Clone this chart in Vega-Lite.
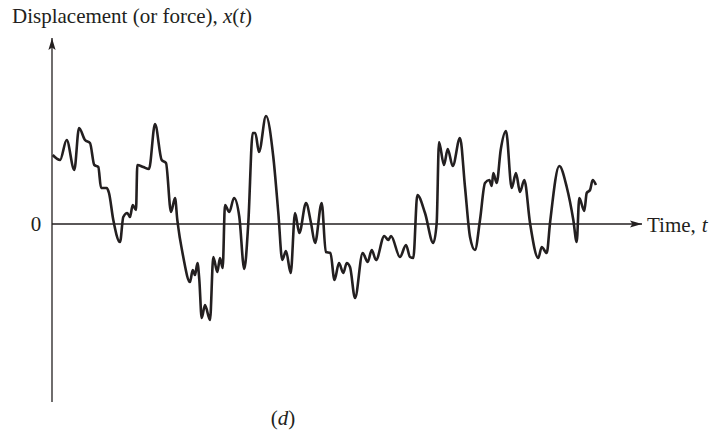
{
  "$schema": "https://vega.github.io/schema/vega-lite/v6.json",
  "width": 590,
  "height": 364,
  "autosize": {"type": "none"},
  "padding": {"left": 52, "right": 69, "top": 38, "bottom": 38},
  "background": "white",
  "config": {"view": {"stroke": null}},
  "datasets": {
    "signal": [
      {"t":0.12,"v":0.69},{"t":1.36,"v":0.64},{"t":2.49,"v":0.84},{"t":3.78,"v":0.54},{"t":4.58,"v":0.96},{"t":5.59,"v":0.84},{"t":6.44,"v":0.81},{"t":7.17,"v":0.59},{"t":7.85,"v":0.57},{"t":8.31,"v":0.36},{"t":9.27,"v":0.36},{"t":9.66,"v":0.31},{"t":10.39,"v":0.04},{"t":11.53,"v":-0.18},{"t":12.08,"v":0.07},{"t":12.76,"v":0.11},{"t":13.22,"v":0.07},{"t":13.68,"v":0.19},{"t":14.24,"v":0.14},{"t":14.46,"v":0.59},{"t":15.47,"v":0.57},{"t":16.44,"v":0.55},{"t":17.46,"v":1.0},{"t":18.59,"v":0.64},{"t":19.32,"v":0.61},{"t":20.17,"v":0.12},{"t":20.85,"v":0.26},{"t":21.24,"v":0.04},{"t":22.25,"v":-0.33},{"t":23.39,"v":-0.58},{"t":23.85,"v":-0.46},{"t":24.24,"v":-0.51},{"t":24.66,"v":-0.39},{"t":24.97,"v":-0.56},{"t":25.37,"v":-0.94},{"t":25.93,"v":-0.81},{"t":26.78,"v":-0.96},{"t":27.34,"v":-0.33},{"t":28.02,"v":-0.48},{"t":28.47,"v":-0.34},{"t":28.93,"v":-0.44},{"t":29.32,"v":0.19},{"t":30.05,"v":0.12},{"t":30.85,"v":0.26},{"t":31.75,"v":0.07},{"t":32.59,"v":-0.45},{"t":33.27,"v":0.01},{"t":34.02,"v":0.91},{"t":34.46,"v":0.91},{"t":35.08,"v":0.72},{"t":36.27,"v":1.08},{"t":37.51,"v":0.67},{"t":38.36,"v":0.11},{"t":39.03,"v":-0.36},{"t":39.66,"v":-0.27},{"t":40.46,"v":-0.49},{"t":41.19,"v":0.11},{"t":41.92,"v":-0.09},{"t":43.05,"v":0.21},{"t":43.9,"v":0.01},{"t":44.58,"v":-0.19},{"t":45.71,"v":0.21},{"t":46.41,"v":-0.28},{"t":47.19,"v":-0.29},{"t":47.88,"v":-0.56},{"t":48.64,"v":-0.39},{"t":49.37,"v":-0.49},{"t":49.95,"v":-0.39},{"t":50.51,"v":-0.43},{"t":51.36,"v":-0.74},{"t":52.66,"v":-0.29},{"t":53.51,"v":-0.38},{"t":54.19,"v":-0.26},{"t":54.92,"v":-0.36},{"t":56.32,"v":-0.12},{"t":57.0,"v":-0.16},{"t":57.46,"v":-0.12},{"t":58.98,"v":-0.33},{"t":60.0,"v":-0.21},{"t":60.68,"v":-0.33},{"t":61.24,"v":-0.34},{"t":61.92,"v":0.29},{"t":63.22,"v":0.11},{"t":64.63,"v":-0.19},{"t":65.2,"v":0.01},{"t":65.59,"v":0.82},{"t":66.44,"v":0.59},{"t":67.07,"v":0.75},{"t":67.92,"v":0.58},{"t":69.15,"v":0.86},{"t":70.0,"v":0.37},{"t":70.85,"v":-0.13},{"t":71.69,"v":-0.26},{"t":72.54,"v":0.04},{"t":73.39,"v":0.41},{"t":74.12,"v":0.44},{"t":74.53,"v":0.38},{"t":74.8,"v":0.51},{"t":75.37,"v":0.41},{"t":76.05,"v":0.74},{"t":76.95,"v":0.93},{"t":77.92,"v":0.36},{"t":78.64,"v":0.51},{"t":79.32,"v":0.32},{"t":80.05,"v":0.44},{"t":81.02,"v":0.01},{"t":82.42,"v":-0.34},{"t":83.0,"v":-0.23},{"t":83.85,"v":-0.29},{"t":84.41,"v":0.01},{"t":85.98,"v":0.58},{"t":87.24,"v":0.37},{"t":88.36,"v":0.04},{"t":88.93,"v":-0.18},{"t":89.37,"v":0.26},{"t":90.22,"v":0.13},{"t":90.63,"v":0.31},{"t":91.19,"v":0.34},{"t":91.64,"v":0.44},{"t":92.2,"v":0.39}
    ],
    "axes": [
      {"t": 0, "v": -1.78, "t2": 0, "v2": 1.86},
      {"t": 0, "v": 0, "t2": 100, "v2": 0}
    ],
    "labels": [
      {"t": -6.78, "v": 2.01, "label": "Displacement (or force), ", "style": "normal"},
      {"t": 28.98, "v": 2.01, "label": "x", "style": "italic"},
      {"t": 30.56, "v": 2.01, "label": "(", "style": "normal"},
      {"t": 31.75, "v": 2.01, "label": "t", "style": "italic"},
      {"t": 32.73, "v": 2.01, "label": ")", "style": "normal"},
      {"t": 100.85, "v": -0.075, "label": "Time, ", "style": "normal"},
      {"t": 110.14, "v": -0.075, "label": "t", "style": "italic"},
      {"t": -3.6, "v": -0.07, "label": "0", "style": "normal"},
      {"t": 37.08, "v": -2.01, "label": "(", "style": "normal"},
      {"t": 38.26, "v": -2.01, "label": "d", "style": "italic"},
      {"t": 40.04, "v": -2.01, "label": ")", "style": "normal"}
    ]
  },
  "layer": [
    {
      "data": {"name": "axes"},
      "mark": {"type": "rule", "color": "#231f20", "strokeWidth": 1.3, "clip": false},
      "encoding": {
        "x": {"field": "t", "type": "quantitative", "scale": {"domain": [0, 100]}, "axis": null},
        "x2": {"field": "t2"},
        "y": {"field": "v", "type": "quantitative", "scale": {"domain": [-1.78, 1.86]}, "axis": null},
        "y2": {"field": "v2"}
      }
    },
    {
      "data": {"values": [{"t": 0, "v": 1.86}]},
      "mark": {"type": "point", "shape": "M0,0L0.6,2L0,1.6L-0.6,2Z", "filled": true, "color": "#231f20", "size": 144, "opacity": 1, "clip": false},
      "encoding": {
        "x": {"field": "t", "type": "quantitative", "scale": {"domain": [0, 100]}, "axis": null},
        "y": {"field": "v", "type": "quantitative", "scale": {"domain": [-1.78, 1.86]}, "axis": null}
      }
    },
    {
      "data": {"values": [{"t": 100, "v": 0}]},
      "mark": {"type": "point", "shape": "M0,0L-2,-0.6L-1.6,0L-2,0.6Z", "filled": true, "color": "#231f20", "size": 144, "opacity": 1, "clip": false},
      "encoding": {
        "x": {"field": "t", "type": "quantitative", "scale": {"domain": [0, 100]}, "axis": null},
        "y": {"field": "v", "type": "quantitative", "scale": {"domain": [-1.78, 1.86]}, "axis": null}
      }
    },
    {
      "data": {"name": "signal"},
      "mark": {"type": "line", "color": "#231f20", "strokeWidth": 2.6, "interpolate": "monotone", "clip": false},
      "encoding": {
        "x": {"field": "t", "type": "quantitative", "scale": {"domain": [0, 100]}, "axis": null},
        "y": {"field": "v", "type": "quantitative", "scale": {"domain": [-1.78, 1.86]}, "axis": null}
      }
    },
    {
      "data": {"name": "labels"},
      "transform": [{"filter": "datum.style == 'normal'"}],
      "mark": {"type": "text", "align": "left", "baseline": "alphabetic", "font": "Liberation Serif", "fontSize": 21, "color": "#231f20", "clip": false},
      "encoding": {
        "x": {"field": "t", "type": "quantitative", "scale": {"domain": [0, 100]}, "axis": null},
        "y": {"field": "v", "type": "quantitative", "scale": {"domain": [-1.78, 1.86]}, "axis": null},
        "text": {"field": "label"}
      }
    },
    {
      "data": {"name": "labels"},
      "transform": [{"filter": "datum.style == 'italic'"}],
      "mark": {"type": "text", "align": "left", "baseline": "alphabetic", "font": "Liberation Serif", "fontSize": 21, "fontStyle": "italic", "color": "#231f20", "clip": false},
      "encoding": {
        "x": {"field": "t", "type": "quantitative", "scale": {"domain": [0, 100]}, "axis": null},
        "y": {"field": "v", "type": "quantitative", "scale": {"domain": [-1.78, 1.86]}, "axis": null},
        "text": {"field": "label"}
      }
    }
  ]
}
